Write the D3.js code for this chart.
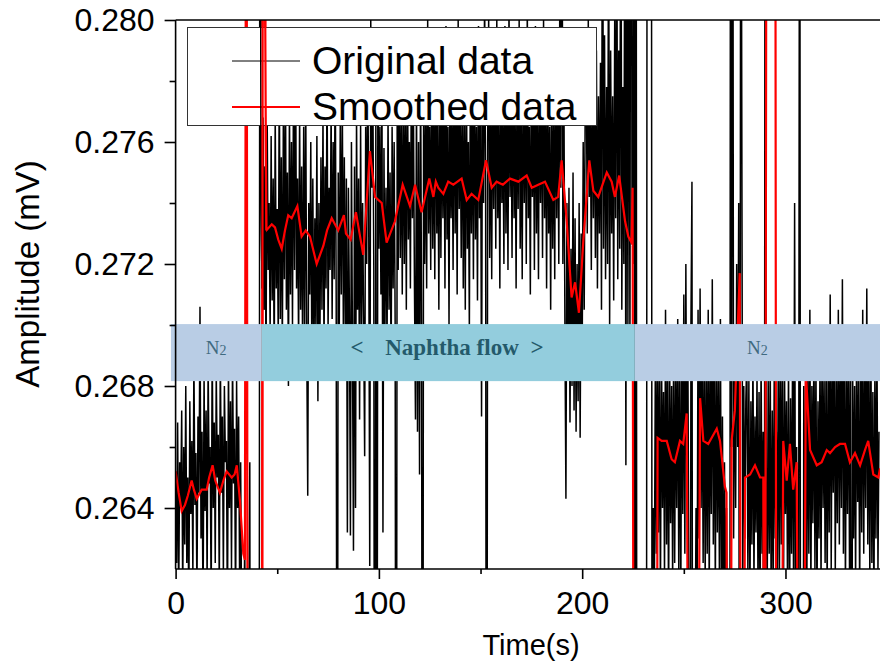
<!DOCTYPE html>
<html>
<head>
<meta charset="utf-8">
<script src="https://cdn.jsdelivr.net/npm/d3@7/dist/d3.min.js"></script>
<style>
  body { margin: 0; background: #fff; }
  svg { display: block; }
</style>
</head>
<body>
<div id="chart"></div>
<script>
// amplitudes are stored in units of 1e-4 mV (0.1 µV)
const AMP_UNIT = 1e-4;

// original signal, one sample every 0.5 s starting at t = 0
const sampleStart = 0;
const sampleStep = 0.5;
const originalData = [
  // N2, 0 - 32.5 s
  2652, 2622, 2668, 2608, 2655, 2640, 2672, 2612, 2660, 2628,
  2680, 2622, 2650, 2605, 2675, 2638, 2662, 2618, 2690, 2641,
  2658, 2610, 2670, 2645, 2706, 2630, 2665, 2602, 2684, 2639,
  2672, 2615, 2688, 2648, 2660, 2608, 2695, 2640, 2668, 2622,
  2685, 2650, 2664, 2612, 2692, 2645, 2670, 2618, 2680, 2655,
  2662, 2600, 2688, 2640, 2675, 2620, 2690, 2648, 2666, 2605,
  2682, 2640, 2670, 2615, 2655, 2600,
  // switching, 33 - 41.5 s
  2618, 2590, 2630, 2575, 2612, 2560, 2600, 2655, 2400, 2400,
  2400, 2400, 2400, 2400, 2400, 2400, 2400, 2950,
  // naphtha flow, 42 - 225.5 s
  2745, 2712, 2768, 2705, 2752, 2690, 2775, 2718, 2740, 2698,
  2762, 2708, 2748, 2685, 2770, 2712, 2738, 2695, 2785, 2702,
  2755, 2690, 2768, 2715, 2790, 2705, 2750, 2680, 2772, 2710,
  2760, 2700, 2782, 2718, 2795, 2712, 2748, 2692, 2770, 2705,
  2752, 2688, 2765, 2700, 2778, 2695, 2644, 2740, 2710, 2760,
  2690, 2748, 2682, 2735, 2700, 2762, 2675, 2740, 2695, 2755,
  2705, 2770, 2690, 2752, 2712, 2785, 2698, 2745, 2718, 2772,
  2702, 2760, 2715, 2790, 2708, 2450, 2750, 2695, 2768, 2710,
  2775, 2700, 2755, 2690, 2748, 2632, 2745, 2705, 2631, 2760,
  2692, 2626, 2752, 2640, 2770, 2705, 2748, 2669, 2766, 2700,
  2740, 2700, 2657, 2765, 2720, 2790, 2735, 2621, 2800, 2745,
  2782, 2718, 2400, 2770, 2450, 2790, 2725, 2765, 2710, 2780,
  2632, 2758, 2700, 2745, 2690, 2770, 2705, 2750, 2682, 2765,
  2712, 2760, 2700, 2400, 2775, 2718, 2790, 2722, 2768, 2710,
  2785, 2720, 2770, 2705, 2795, 2728, 2760, 2712, 2790, 2735,
  2770, 2712, 2669, 2780, 2665, 2760, 2651, 2790, 2700, 2400,
  2785, 2720, 2770, 2712, 2800, 2730, 2765, 2718, 2790, 2725,
  2772, 2715, 2795, 2730, 2768, 2705, 2788, 2722, 2775, 2735,
  2780, 2712, 2798, 2728, 2765, 2700, 2790, 2735, 2770, 2718,
  2795, 2730, 2775, 2710, 2800, 2738, 2768, 2722, 2785, 2712,
  2770, 2705, 2792, 2725, 2760, 2698, 2785, 2730, 2775, 2715,
  2790, 2728, 2765, 2708, 2798, 2735, 2780, 2670, 2795, 2740,
  2810, 2745, 2400, 2760, 2800, 2722, 2775, 2715, 2790, 2738,
  2785, 2725, 2800, 2735, 2770, 2712, 2792, 2740, 2768, 2720,
  2798, 2730, 2775, 2718, 2805, 2742, 2780, 2722, 2795, 2735,
  2772, 2712, 2790, 2738, 2800, 2725, 2768, 2715, 2795, 2740,
  2782, 2720, 2805, 2735, 2765, 2710, 2790, 2742, 2775, 2718,
  2798, 2730, 2770, 2715, 2792, 2740, 2780, 2722, 2800, 2735,
  2775, 2712, 2790, 2730, 2765, 2705, 2785, 2725, 2770, 2715,
  2795, 2735, 2780, 2720, 2810, 2745, 2900, 2720, 2780, 2700,
  2643, 2740, 2690, 2745, 2668, 2725, 2680, 2750, 2672, 2735,
  2665, 2720, 2675, 2740, 2663, 2730, 2690, 2760, 2705, 2775,
  2785, 2730, 2800, 2742, 2770, 2718, 2795, 2735, 2780, 2722,
  2790, 2712, 2775, 2730, 2786, 2705, 2882, 2725, 2795, 2715,
  2778, 2720, 2842, 2700, 2790, 2730, 2775, 2708, 2800, 2735,
  2848, 2715, 2790, 2725, 2885, 2705, 2778, 2720, 2862, 2654,
  2870, 2700, 2875, 2690, 2990, 2740, 2720, 2990,
  // N2, 226 - 346 s
  2400, 2950, 2400, 2400, 2400, 2400, 2400, 2400, 2400, 2400,
  2400, 2400, 2950, 2950, 2950, 2950, 2950, 2400, 2640, 2612,
  2690, 2625, 2700, 2632, 2685, 2610, 2695, 2640, 2678, 2618,
  2705, 2628, 2688, 2605, 2692, 2635, 2680, 2615, 2698, 2622,
  2685, 2640, 2702, 2620, 2690, 2608, 2695, 2638, 2710, 2625,
  2720, 2645, 2690, 2610, 2450, 2700, 2747, 2400, 2610, 2580,
  2640, 2600, 2705, 2630, 2712, 2640, 2690, 2622, 2700, 2615,
  2688, 2625, 2705, 2610, 2695, 2638, 2715, 2628, 2690, 2612,
  2700, 2632, 2685, 2618, 2702, 2605, 2670, 2595, 2655, 2612,
  2640, 2590, 2450, 2400, 2950, 2660, 2950, 2630, 2700, 2640,
  2720, 2660, 2740, 2400, 2950, 2775, 2610, 2680, 2630, 2675,
  2690, 2620, 2682, 2605, 2675, 2628, 2692, 2615, 2670, 2632,
  2685, 2610, 2678, 2600, 2690, 2625, 2665, 2400, 2950, 2650,
  2610, 2682, 2625, 2690, 2600, 2672, 2618, 2688, 2630, 2665,
  2620, 2695, 2612, 2700, 2628, 2685, 2605, 2690, 2638, 2675,
  2615, 2688, 2600, 2676, 2625, 2692, 2610, 2740, 2590, 2660,
  2400, 2620, 2950, 2450, 2600, 2430, 2680, 2590, 2700, 2610,
  2690, 2625, 2705, 2612, 2680, 2635, 2698, 2620, 2688, 2605,
  2675, 2630, 2692, 2615, 2700, 2640, 2682, 2622, 2695, 2610,
  2688, 2632, 2710, 2620, 2690, 2645, 2700, 2618, 2685, 2635,
  2705, 2628, 2692, 2640, 2715, 2625, 2698, 2612, 2688, 2638,
  2700, 2620, 2685, 2450, 2692, 2630, 2680, 2615, 2698, 2642,
  2682, 2610, 2695, 2632, 2705, 2625, 2688, 2640, 2712, 2628,
  2690, 2615, 2700, 2622, 2678, 2605, 2688, 2630, 2695, 2620,
  2665
];

// smoothed signal: [time (s), amplitude]
const smoothedData = [
  [0, 2652], [1.5, 2645], [3, 2639], [4.6, 2641], [6, 2644], [7.9, 2649], [9, 2646],
  [10.4, 2643], [12.8, 2646], [15.3, 2646], [16.5, 2650], [18.2, 2654], [19.5, 2649],
  [21.8, 2645], [23.5, 2649], [25.1, 2652], [27.6, 2650], [29, 2651], [30.1, 2654],
  [31.7, 2642], [33.3, 2625], [34.1, 2623], [34.8, 2950], [35.6, 2450], [42.4, 2450],
  [43.0, 2950], [44.6, 2731], [47.3, 2733], [48.9, 2732], [50.5, 2728], [52.2, 2725],
  [53.8, 2731], [55.4, 2736], [57.1, 2735], [59.9, 2739], [62.0, 2729], [64, 2731],
  [66.1, 2729], [69.4, 2720], [72.7, 2726], [74.5, 2731], [76.8, 2735], [80.0, 2731],
  [82.8, 2736], [83.8, 2730], [86.1, 2728], [88.7, 2737], [92.3, 2723], [95.6, 2757],
  [98.1, 2742], [101.4, 2740], [103.8, 2727], [107.9, 2734], [111.7, 2746], [115.3, 2739],
  [117.8, 2746], [121.0, 2737], [124.8, 2748], [126.8, 2742], [128, 2747], [129.2, 2745],
  [131.7, 2743], [134.1, 2747], [136.6, 2746], [140.7, 2748], [143.2, 2741], [145.6, 2743],
  [148.9, 2741], [152.7, 2754], [155.5, 2745], [157.9, 2747], [161, 2746], [164.5, 2748],
  [168.6, 2747], [172.7, 2749], [175.2, 2745], [178.4, 2746], [181.7, 2747], [185.8, 2741],
  [188.2, 2742], [189.9, 2754], [192.4, 2734], [194.8, 2709], [196.5, 2714], [198.4, 2704],
  [200.5, 2727], [203.5, 2754], [205.5, 2744], [207.9, 2742], [212.1, 2750], [214.5, 2747],
  [216.1, 2742], [218.2, 2749], [221.1, 2734], [222.7, 2729], [224.3, 2727], [224.8, 2745],
  [225.5, 2450], [236.4, 2450], [237.1, 2663], [239.1, 2662], [241.6, 2662], [244.0, 2656],
  [245.6, 2655], [248.1, 2662], [249.7, 2661], [251.4, 2671], [253.0, 2450], [256.4, 2450],
  [258.0, 2676], [259.6, 2662], [262.0, 2661], [266.2, 2666], [267.8, 2662], [270.2, 2647],
  [271.0, 2645], [271.6, 2450], [272.8, 2450], [273.5, 2662], [275.1, 2672], [276.3, 2695],
  [277.5, 2717], [278.3, 2450], [279.0, 2450], [280.1, 2650], [282.6, 2651], [285.0, 2654],
  [287.5, 2650], [289.1, 2650], [289.8, 2450], [290.8, 2950], [294.9, 2950], [295.6, 2450],
  [297.5, 2450], [298.9, 2662], [300.6, 2649], [302.2, 2661], [303.8, 2646], [305.5, 2655],
  [307.1, 2450], [308.5, 2450], [310.0, 2685], [312.1, 2659], [315.4, 2654], [317.8, 2655],
  [320.3, 2659], [321.9, 2658], [324.4, 2660], [326.8, 2661], [329.3, 2661], [331.7, 2655],
  [334.2, 2658], [336.7, 2654], [339.1, 2659], [340.7, 2662], [343.2, 2651], [345.7, 2650],
  [346.5, 2653]
];

// gas flow phases shown in the band (time in s)
const phaseLabels = ['N2', 'Naphtha flow', 'N2'];
const phaseStarts = [-2.3, 42.1, 225.9];
const phaseEnds = [42.1, 225.9, 346.5];
const bandRange = [0.26816, 0.27003];

// switch-on spikes that are drawn over the legend box (time window, s)
const switchWindow = [41.2, 44.7];

const xTicks = [0, 100, 200, 300];
const xMinorTicks = [50, 150, 250];
const yTicks = [0.264, 0.268, 0.272, 0.276, 0.280];
const yMinorTicks = [0.266, 0.270, 0.274, 0.278];

const legendItems = ['Original data', 'Smoothed data'];

const width = 880, height = 665;
const svg = d3.select('#chart').append('svg')
  .attr('width', width)
  .attr('height', height)
  .style('font-family', '"Liberation Sans", Arial, sans-serif');

const x = d3.scaleLinear().domain([0, 346.5]).range([175.6, 880]);
const y = d3.scaleLinear().domain([0.262, 0.280]).range([569, 20]);

svg.append('clipPath').attr('id', 'plot-clip')
  .append('rect')
  .attr('x', x.range()[0]).attr('y', y.range()[1])
  .attr('width', x.range()[1] - x.range()[0])
  .attr('height', y.range()[0] - y.range()[1]);

const original = originalData.map((v, i) => [sampleStart + i * sampleStep, v * AMP_UNIT]);
const smoothed = smoothedData.map(d => [d[0], d[1] * AMP_UNIT]);

const line = d3.line().x(d => x(d[0])).y(d => y(d[1]));

function drawSeries(parent, orig, smooth) {
  parent.append('path')
    .datum(orig)
    .attr('fill', 'none')
    .attr('stroke', '#000')
    .attr('stroke-width', 1.5)
    .attr('stroke-linejoin', 'bevel')
    .attr('d', line);
  parent.append('path')
    .datum(smooth)
    .attr('fill', 'none')
    .attr('stroke', '#ff0000')
    .attr('stroke-width', 2.2)
    .attr('d', line);
}

const plot = svg.append('g').attr('clip-path', 'url(#plot-clip)');
drawSeries(plot, original, smoothed);

// legend
const legend = svg.append('g');
legend.append('rect')
  .attr('x', 187.5).attr('y', 27.5)
  .attr('width', 409).attr('height', 98)
  .attr('fill', '#fff')
  .attr('stroke', '#333')
  .attr('stroke-width', 1);
const legendColors = ['#000', '#ff0000'];
legendItems.forEach((name, i) => {
  const ly = 61 + i * 46;
  legend.append('line')
    .attr('x1', 232).attr('x2', 300)
    .attr('y1', ly).attr('y2', ly)
    .attr('stroke', legendColors[i])
    .attr('stroke-width', i === 0 ? 1 : 2);
  legend.append('text')
    .attr('x', 312).attr('y', ly + 13)
    .attr('font-size', 39)
    .attr('fill', '#000')
    .text(name);
});

// the switch-on spikes run across the legend box in the original figure
const inWindow = d => d[0] >= switchWindow[0] && d[0] <= switchWindow[1];
const overlay = svg.append('g').attr('clip-path', 'url(#plot-clip)');
drawSeries(overlay, original.filter(inWindow), smoothed.filter(inWindow));

// flow phase band
const bandFill = { 'N2': '#b9cde5', 'Naphtha flow': '#93cddd' };
const band = svg.append('g');
phaseLabels.forEach((label, i) => {
  const x0 = x(phaseStarts[i]), x1 = x(phaseEnds[i]);
  band.append('rect')
    .attr('x', x0).attr('y', y(bandRange[1]))
    .attr('width', x1 - x0).attr('height', y(bandRange[0]) - y(bandRange[1]))
    .attr('fill', bandFill[label]);
  const cx = (x0 + x1) / 2;
  const ty = y(bandRange[0]) - 27;
  if (label === 'N2') {
    const t = band.append('text')
      .attr('x', cx).attr('y', ty)
      .attr('text-anchor', 'middle')
      .attr('font-family', '"Liberation Serif", serif')
      .attr('fill', '#3f6a80');
    t.append('tspan').attr('font-size', 19).text('N');
    t.append('tspan').attr('font-size', 14).attr('dy', 1).text('2');
  } else {
    const g = band.append('g')
      .attr('font-family', '"Liberation Serif", serif')
      .attr('font-weight', 'bold')
      .attr('font-size', 23)
      .attr('fill', '#245a6b')
      .attr('text-anchor', 'middle');
    g.append('text').attr('x', cx - 91).attr('y', ty + 1).text('<');
    g.append('text').attr('x', cx + 4).attr('y', ty + 1).text(label);
    g.append('text').attr('x', cx + 89).attr('y', ty + 1).text('>');
  }
});

// axes
const xAxis = svg.append('g')
  .attr('transform', `translate(0,${y.range()[0]})`)
  .call(d3.axisBottom(x).tickValues(xTicks).tickFormat(d3.format('d')).tickSize(10).tickPadding(12));
svg.append('g')
  .attr('transform', `translate(0,${y.range()[0]})`)
  .call(d3.axisBottom(x).tickValues(xMinorTicks).tickFormat('').tickSize(5))
  .call(g => g.select('.domain').remove());

const yAxis = svg.append('g')
  .attr('transform', `translate(${x.range()[0]},0)`)
  .call(d3.axisLeft(y).tickValues(yTicks).tickFormat(d3.format('.3f')).tickSize(11).tickPadding(10));
svg.append('g')
  .attr('transform', `translate(${x.range()[0]},0)`)
  .call(d3.axisLeft(y).tickValues(yMinorTicks).tickFormat('').tickSize(6))
  .call(g => g.select('.domain').remove());

svg.selectAll('.domain, .tick line').attr('stroke', '#000').attr('stroke-width', 1.6);
svg.selectAll('.tick text')
  .attr('font-family', '"Liberation Sans", Arial, sans-serif')
  .attr('font-size', 32)
  .attr('fill', '#000');
xAxis.selectAll('.domain').attr('d', `M${x.range()[0]},0H${x.range()[1]}`);
yAxis.selectAll('.domain').attr('d', `M0,${y.range()[0]}V${y.range()[1]}`);

// top frame line
svg.append('line')
  .attr('x1', x.range()[0]).attr('x2', x.range()[1])
  .attr('y1', y.range()[1]).attr('y2', y.range()[1])
  .attr('stroke', '#000').attr('stroke-width', 1.6);

// axis titles
svg.append('text')
  .attr('x', 531)
  .attr('y', 655)
  .attr('text-anchor', 'middle')
  .attr('font-size', 29)
  .text('Time(s)');
svg.append('text')
  .attr('transform', 'translate(39,274) rotate(-90)')
  .attr('text-anchor', 'middle')
  .attr('font-size', 33)
  .text('Amplitude (mV)');
</script>
</body>
</html>
